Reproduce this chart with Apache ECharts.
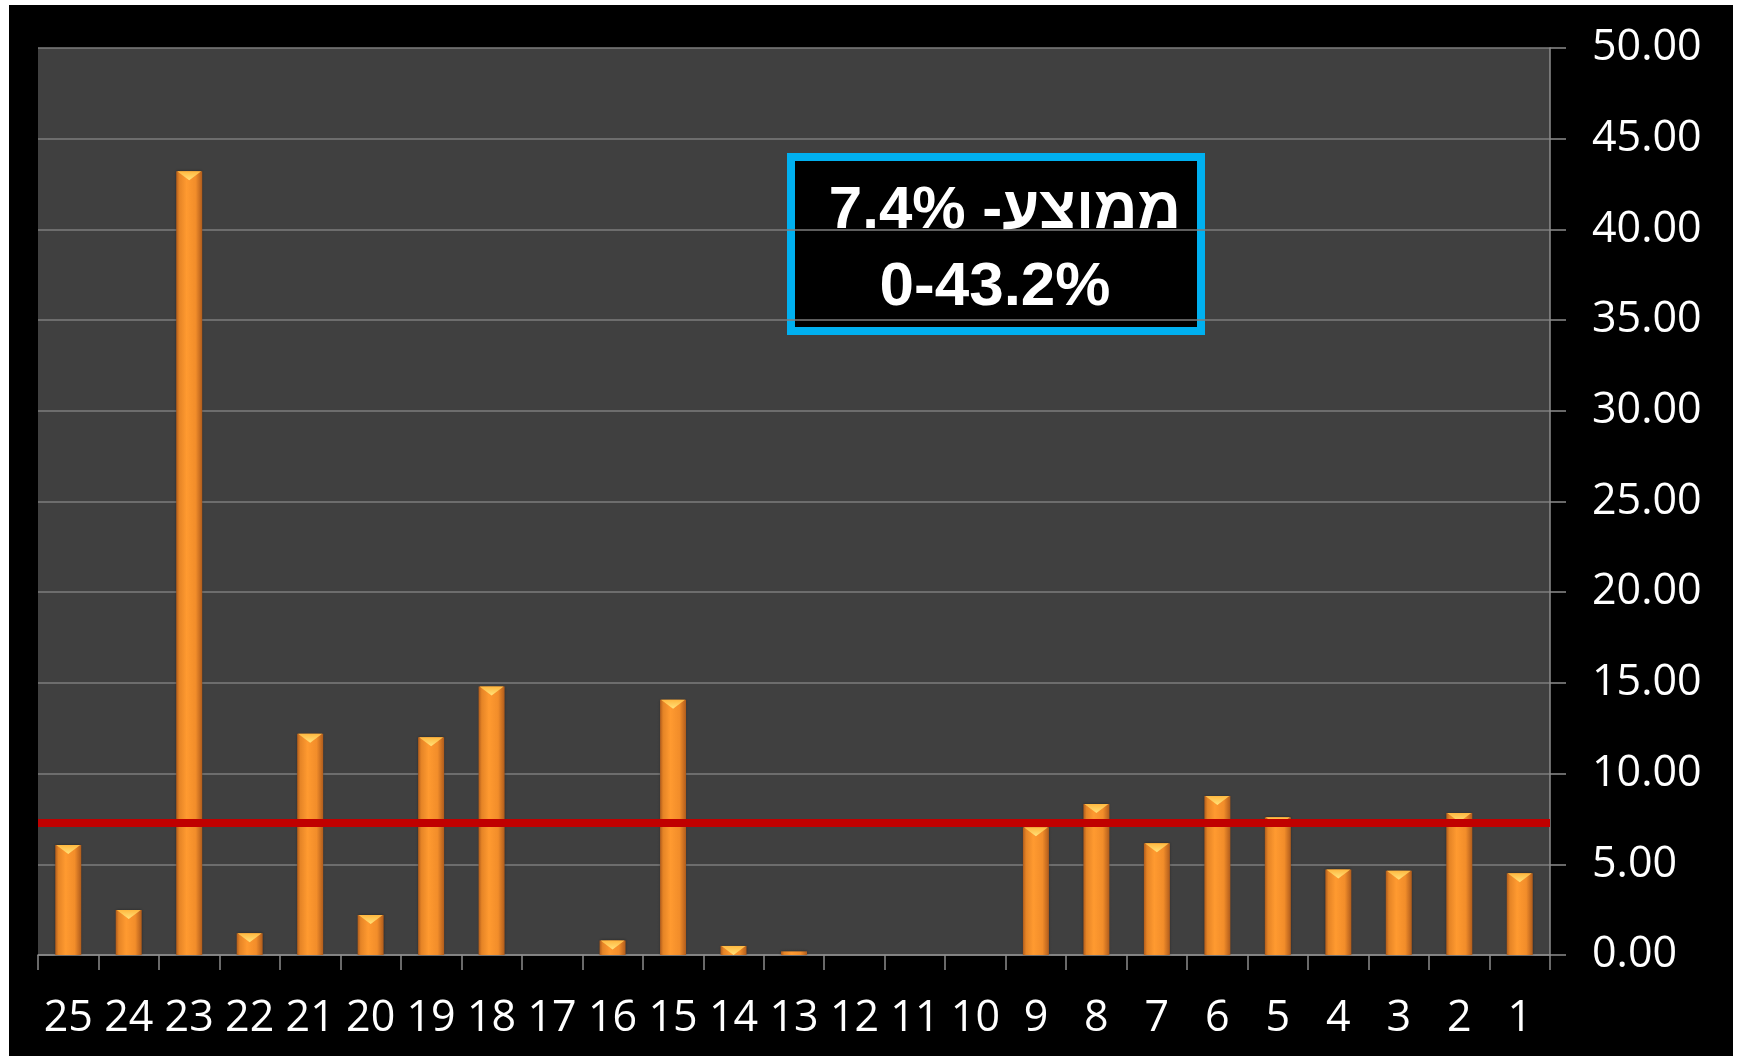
<!DOCTYPE html>
<html>
<head>
<meta charset="utf-8">
<script src="https://cdn.jsdelivr.net/npm/echarts@6/dist/echarts.min.js"></script>
<style>
  html, body { margin: 0; padding: 0; background: #ffffff; }
  #chart { position: absolute; left: 9px; top: 5px; width: 1724px; height: 1051px; background: #000; }
</style>
</head>
<body>
<div id="chart"></div>
<script>
const categories = ['25','24','23','22','21','20','19','18','17','16','15','14','13','12','11','10','9','8','7','6','5','4','3','2','1'];
const values = [6.06, 2.48, 43.2, 1.2, 12.2, 2.2, 12.0, 14.8, 0, 0.8, 14.07, 0.5, 0.2, 0, 0, 0, 7.04, 8.32, 6.16, 8.77, 7.59, 4.72, 4.65, 7.83, 4.5];
const averageLine = 7.3;
const boxLine1 = 'ממוצע- 7.4%';
const boxLine2 = '0-43.2%';
const yTicks = { min: 0, max: 50, interval: 5 };

const chart = echarts.init(document.getElementById('chart'), null, { renderer: 'canvas' });

const barGradient = new echarts.graphic.LinearGradient(0, 0, 1, 0, [
  { offset: 0, color: '#b05c1c' },
  { offset: 0.12, color: '#e58426' },
  { offset: 0.4, color: '#ff9a30' },
  { offset: 0.75, color: '#f28d2a' },
  { offset: 1, color: '#b05c1c' }
]);

const option = {
  backgroundColor: '#000000',
  animation: false,
  grid: {
    left: 29, right: 183, top: 43, bottom: 101,
    show: true, backgroundColor: '#404040', borderWidth: 0
  },
  xAxis: {
    type: 'category',
    data: categories,
    boundaryGap: true,
    axisLine: { show: true, lineStyle: { color: '#8c8c8c', width: 1.5 } },
    axisTick: { show: true, inside: false, length: 15, alignWithLabel: false, lineStyle: { color: '#8c8c8c', width: 1.5 } },
    axisLabel: { color: '#ffffff', fontFamily: 'Open Sans', fontSize: 43, margin: 42, interval: 0 },
    splitLine: { show: false }
  },
  yAxis: {
    type: 'value',
    position: 'right',
    min: yTicks.min, max: yTicks.max, interval: yTicks.interval,
    axisLine: { show: true, lineStyle: { color: '#8c8c8c', width: 1.5 } },
    axisTick: { show: true, inside: false, length: 16, lineStyle: { color: '#8c8c8c', width: 1.5 } },
    axisLabel: {
      color: '#ffffff', fontFamily: 'Open Sans', fontSize: 43, margin: 42,
      formatter: v => v.toFixed(2)
    },
    splitLine: { show: true, lineStyle: { color: '#7c7c7c', width: 1.5 } }
  },
  series: [
    {
      type: 'bar',
      data: values.map(v => (v > 0 ? v : '-')),
      barWidth: 26,
      itemStyle: {
        color: barGradient,
        borderWidth: 0,
        shadowColor: 'rgba(0,0,0,0.4)',
        shadowBlur: 3
      },
      markLine: {
        silent: true,
        symbol: 'none',
        label: { show: false },
        lineStyle: { color: '#c00000', width: 8, type: 'solid' },
        data: [{ yAxis: averageLine }],
        z: 10
      },
      z: 2
    },
    {
      type: 'pictorialBar',
      data: values.map(v => (v >= 0.3 ? v : '-')),
      symbol: 'triangle',
      symbolRotate: 180,
      symbolPosition: 'end',
      symbolSize: [24, 9],
      symbolOffset: [0, 0],
      itemStyle: {
        color: new echarts.graphic.LinearGradient(0, 0, 0, 1, [
          { offset: 0, color: '#ffe27a' },
          { offset: 1, color: '#ffb840' }
        ])
      },
      silent: true,
      z: 3
    }
  ],
  graphic: [
    {
      type: 'group',
      z: 100,
      children: [
        {
          type: 'rect',
          shape: { x: 782, y: 152, width: 410, height: 174 },
          style: { fill: '#000000', stroke: '#00b0f0', lineWidth: 8 }
        },
        {
          type: 'text',
          x: 996, y: 206,
          style: {
            text: boxLine1, fill: '#ffffff',
            font: 'bold 60px "Liberation Sans", Arial, "DejaVu Sans", sans-serif',
            textAlign: 'center', textVerticalAlign: 'middle'
          }
        },
        {
          type: 'text',
          x: 986, y: 283,
          style: {
            text: boxLine2, fill: '#ffffff',
            font: 'bold 62px "Liberation Sans", Arial, "DejaVu Sans", sans-serif',
            textAlign: 'center', textVerticalAlign: 'middle'
          }
        }
      ]
    }
  ]
};

chart.setOption(option);
</script>
</body>
</html>
